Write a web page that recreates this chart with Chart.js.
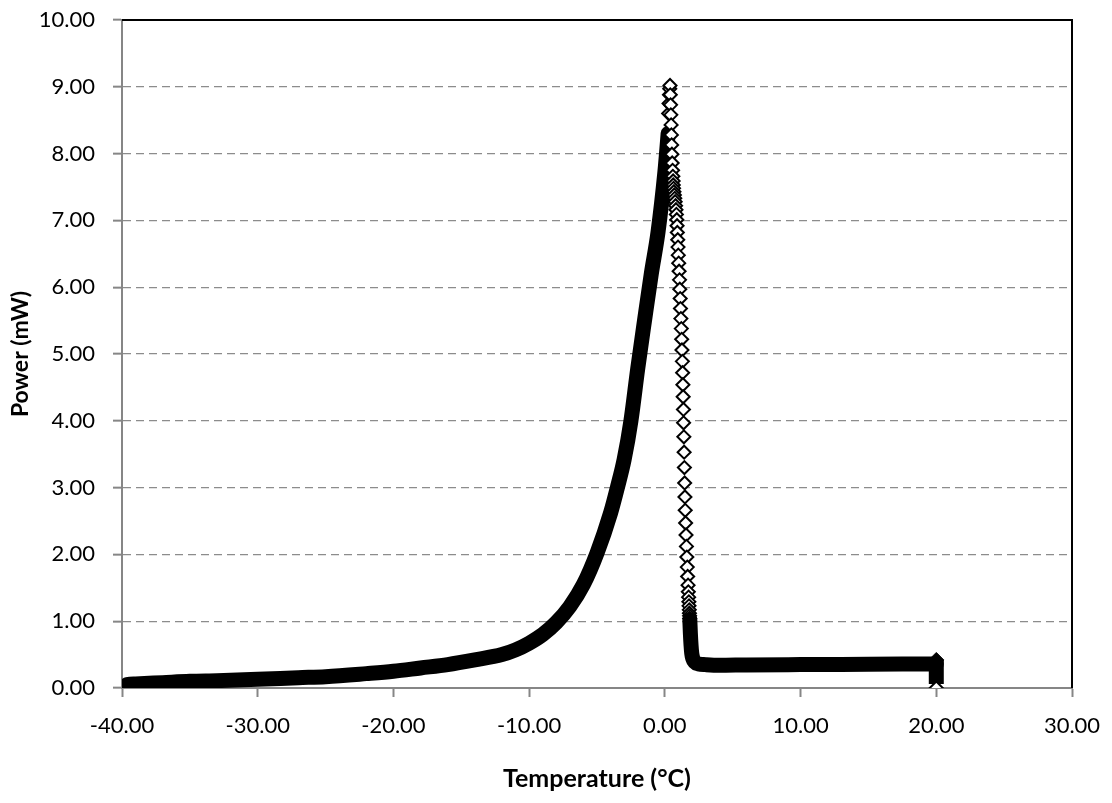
<!DOCTYPE html>
<html>
<head>
<meta charset="utf-8">
<script src="https://cdn.jsdelivr.net/npm/chart.js@4.4.1/dist/chart.umd.min.js"></script>
<style>
  body { margin: 0; background: #fff; }
</style>
</head>
<body>
<canvas id="powerChart" width="1112" height="803"></canvas>
<script>
// Rising part (dense points, they merge into one thick black band)
const riseTemp  = [-40.0, -39.6, -39.0, -37.0, -35.0, -33.0, -30.0, -27.0, -25.0, -22.0, -20.0, -18.0, -16.0, -14.0, -12.0, -11.0, -10.0, -9.0, -8.0, -7.0, -6.0, -5.0, -4.0, -3.5, -3.0, -2.5, -2.0, -1.5, -1.0, -0.5, 0.0, 0.12, 0.24];
const risePower = [0.00, 0.05, 0.06, 0.08, 0.10, 0.11, 0.13, 0.155, 0.17, 0.215, 0.25, 0.30, 0.35, 0.42, 0.50, 0.57, 0.67, 0.80, 0.98, 1.22, 1.55, 2.02, 2.62, 3.00, 3.42, 4.00, 4.78, 5.50, 6.20, 6.83, 7.72, 8.00, 8.30];

// Peak and falling part (sparse points, each diamond is visible)
const peakTemp  = [0.28, 0.31, 0.34, 0.36,
  0.38, 0.40, 0.42, 0.44, 0.46, 0.48, 0.50, 0.52, 0.54, 0.57, 0.59, 0.61, 0.62, 0.64, 0.67, 0.70, 0.73, 0.76, 0.79, 0.82, 0.85,
  0.88, 0.90, 0.92, 0.95, 0.97, 0.99, 1.02, 1.05, 1.08, 1.10, 1.13, 1.15, 1.18, 1.21, 1.24, 1.26,
  1.29, 1.31, 1.33, 1.35, 1.37, 1.38, 1.40, 1.42, 1.44, 1.46, 1.48, 1.50, 1.53, 1.56, 1.59, 1.62,
  1.65, 1.68, 1.71, 1.73, 1.75, 1.77, 1.78, 1.80, 1.81, 1.82, 1.83];
const peakPower = [8.60, 8.75, 8.88, 8.97,
  9.02, 8.88, 8.73, 8.58, 8.43, 8.28, 8.13, 7.99, 7.86, 7.75, 7.66, 7.59, 7.53, 7.48, 7.43, 7.38, 7.33, 7.28, 7.22, 7.16, 7.09,
  7.01, 6.92, 6.82, 6.71, 6.60, 6.48, 6.36, 6.24, 6.11, 5.97, 5.83, 5.68, 5.53, 5.38, 5.22, 5.06,
  4.89, 4.72, 4.54, 4.36, 4.17, 3.97, 3.76, 3.53, 3.30, 3.07, 2.86, 2.66, 2.47, 2.29, 2.12, 1.96,
  1.81, 1.67, 1.54, 1.44, 1.36, 1.29, 1.23, 1.17, 1.12, 1.08, 1.04];

// Tail: back to baseline and flat up to 20 °C
const tailTemp  = [1.84, 1.88, 1.93, 1.98, 2.06, 2.20, 2.50, 3.00, 4.00, 6.00, 10.00, 15.00, 20.00];
const tailPower = [1.02, 0.82, 0.64, 0.52, 0.44, 0.39, 0.36, 0.35, 0.34, 0.345, 0.35, 0.355, 0.36];

// Drop at the end of the run
const dropTemp  = [20.00, 20.00];
const dropPower = [0.42, 0.06];
const lastTemp  = [20.00];
const lastPower = [0.00];

const xTicks = [-40, -30, -20, -10, 0, 10, 20, 30];
const yTicks = [0, 1, 2, 3, 4, 5, 6, 7, 8, 9, 10];

function toPoints(xs, ys) {
    return xs.map((x, i) => ({ x: x, y: ys[i] }));
}

const fontName = 'Lato, "Open Sans", sans-serif';
const axisGray = '#868686';

// Рамка сверху и справа (чёрная)
const frameBorder = {
    id: 'frameBorder',
    afterDraw(chart) {
        const a = chart.chartArea;
        const ctx = chart.ctx;
        ctx.save();
        ctx.strokeStyle = '#000';
        ctx.lineWidth = 2;
        ctx.beginPath();
        ctx.moveTo(a.left, a.top);
        ctx.lineTo(a.right, a.top);
        ctx.lineTo(a.right, a.bottom);
        ctx.stroke();
        ctx.restore();
    }
};

const ctx = document.getElementById('powerChart').getContext('2d');
new Chart(ctx, {
    type: 'scatter',
    data: {
        datasets: [
            {
                label: 'last',
                data: toPoints(lastTemp, lastPower),
                pointStyle: 'rectRot',
                pointRadius: 6.5,
                pointBorderWidth: 2,
                pointBackgroundColor: '#fff',
                pointBorderColor: '#000',
                order: 0
            },
            {
                label: 'drop',
                data: toPoints(dropTemp, dropPower),
                showLine: true,
                borderColor: '#000',
                borderWidth: 15,
                borderCapStyle: 'butt',
                pointStyle: 'rectRot',
                pointRadius: c => c.dataIndex === 0 ? 7.5 : 0,
                pointBorderWidth: 1,
                pointBackgroundColor: '#000',
                pointBorderColor: '#000',
                order: 1
            },
            {
                label: 'tail',
                data: toPoints(tailTemp, tailPower),
                showLine: true,
                borderColor: '#000',
                borderWidth: 15,
                borderJoinStyle: 'round',
                borderCapStyle: 'round',
                cubicInterpolationMode: 'monotone',
                pointRadius: 0,
                order: 2
            },
            {
                label: 'peak',
                data: toPoints(peakTemp, peakPower),
                pointStyle: 'rectRot',
                pointRadius: 6.5,
                pointBorderWidth: 2,
                pointBackgroundColor: '#fff',
                pointBorderColor: '#000',
                order: 3
            },
            {
                label: 'rise',
                data: toPoints(riseTemp, risePower),
                showLine: true,
                borderColor: '#000',
                borderWidth: 15,
                borderJoinStyle: 'round',
                borderCapStyle: 'round',
                cubicInterpolationMode: 'monotone',
                pointStyle: 'rectRot',
                pointRadius: c => c.dataIndex === 0 ? 7.5 : 0,
                pointBorderWidth: 1,
                pointBackgroundColor: '#000',
                pointBorderColor: '#000',
                order: 4
            }
        ]
    },
    options: {
        responsive: false,
        animation: false,
        devicePixelRatio: 1,
        layout: { padding: { top: 20, right: 40, left: 0, bottom: 0 } },
        plugins: {
            legend: { display: false },
            tooltip: { enabled: false }
        },
        scales: {
            x: {
                type: 'linear',
                min: xTicks[0],
                max: xTicks[xTicks.length - 1],
                afterBuildTicks: s => { s.ticks = xTicks.map(v => ({ value: v })); },
                afterFit: s => {
                    s.height = 803 - 688;
                    s.paddingLeft = 0;
                    s.paddingRight = 0;
                },
                ticks: {
                    font: { family: fontName, size: 22 },
                    color: '#000',
                    padding: 16,
                    maxRotation: 0,
                    callback: v => v.toFixed(2)
                },
                grid: {
                    drawOnChartArea: false,
                    color: axisGray,
                    tickLength: 9,
                    tickWidth: 2
                },
                border: { color: axisGray, width: 2 },
                title: {
                    display: true,
                    text: 'Temperature (°C)',
                    font: { family: fontName, size: 25, weight: 'bold' },
                    color: '#000',
                    padding: { top: 0, bottom: 9 }
                }
            },
            y: {
                type: 'linear',
                min: yTicks[0],
                max: yTicks[yTicks.length - 1],
                afterBuildTicks: s => { s.ticks = yTicks.map(v => ({ value: v })); },
                afterFit: s => {
                    s.width = 122;
                    s.paddingTop = 0;
                    s.paddingBottom = 0;
                },
                ticks: {
                    font: { family: fontName, size: 22 },
                    color: '#000',
                    padding: 18,
                    callback: v => v.toFixed(2)
                },
                grid: {
                    color: '#8c8c8c',
                    lineWidth: 1.3,
                    tickLength: 9,
                    tickColor: axisGray,
                    tickWidth: 2
                },
                border: { color: axisGray, width: 2, dash: [8, 5] },
                title: {
                    display: true,
                    text: 'Power (mW)',
                    font: { family: fontName, size: 23, weight: 'bold' },
                    color: '#000',
                    padding: { top: 7, bottom: 0 }
                }
            }
        }
    },
    plugins: [frameBorder]
});
</script>
</body>
</html>
